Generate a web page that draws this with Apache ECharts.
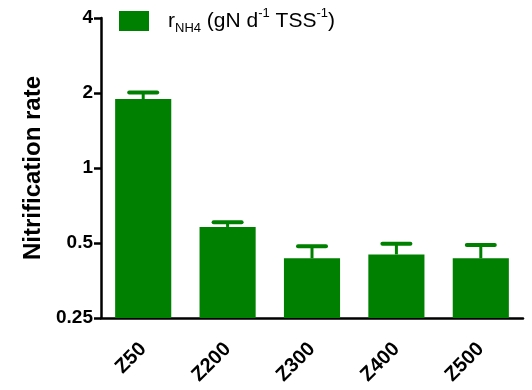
<!DOCTYPE html>
<html>
<head>
<meta charset="utf-8">
<script src="https://cdn.jsdelivr.net/npm/echarts@6/dist/echarts.min.js"></script>
<style>html,body{margin:0;padding:0;background:#fff}#c{width:532px;height:390px}</style>
</head>
<body>
<div id="c"></div>
<script>
var categories = ['Z50', 'Z200', 'Z300', 'Z400', 'Z500'];
var meanValues = [1.89, 0.58, 0.434, 0.45, 0.434];
var upperValues = [2.01, 0.605, 0.485, 0.497, 0.491];
var yTicks = [0.25, 0.5, 1, 2, 4];
var seriesName = 'rNH4';

var GREEN = '#008000';
var FONT = 'Liberation Sans, Arial, sans-serif';
var Y_MIN = yTicks[0];
var Y_MAX = yTicks[yTicks.length - 1];

var chart = echarts.init(document.getElementById('c'));
var barData = categories.map(function (c, i) { return [i, meanValues[i], upperValues[i]]; });

chart.setOption({
  animation: false,
  backgroundColor: '#fff',
  grid: { left: 101, right: 9, top: 18, bottom: 72, containLabel: false },
  legend: {
    show: true,
    data: [{ name: seriesName, icon: 'rect', itemStyle: { color: GREEN } }],
    left: 119, top: 7, padding: 0,
    itemWidth: 30, itemHeight: 20,
    selectedMode: false,
    formatter: function () {
      return '{s|}{n|r}{sub|NH4}{n| (gN d}{sup|-1}{n| TSS}{sup|-1}{n|)}';
    },
    textStyle: {
      fontFamily: FONT, fontSize: 21, color: '#000',
      rich: {
        s: { width: 14 },
        n: { fontFamily: FONT, fontSize: 21, lineHeight: 28, color: '#000' },
        sub: { fontFamily: FONT, fontSize: 13, lineHeight: 15, verticalAlign: 'bottom', color: '#000' },
        sup: { fontFamily: FONT, fontSize: 13, lineHeight: 15, verticalAlign: 'top', color: '#000' }
      }
    }
  },
  xAxis: {
    type: 'category',
    data: categories,
    axisLine: { lineStyle: { color: '#000', width: 2.5 } },
    axisTick: { alignWithLabel: true, length: 10, lineStyle: { color: '#000', width: 2.5 } },
    axisLabel: { rotate: 45, margin: 28, fontFamily: FONT, fontSize: 20, fontWeight: 'bold', color: '#000' },
    splitLine: { show: false }
  },
  yAxis: {
    type: 'log',
    logBase: 2,
    min: Y_MIN,
    max: Y_MAX,
    interval: 1,
    name: 'Nitrification rate',
    nameLocation: 'middle',
    nameGap: 50,
    nameTextStyle: { fontFamily: FONT, fontSize: 24, fontWeight: 'bold', color: '#000' },
    axisLine: { show: true, lineStyle: { color: '#000', width: 2.5 } },
    axisTick: { show: true, length: 7, lineStyle: { color: '#000', width: 2.5 } },
    axisLabel: {
      margin: 8, fontFamily: FONT, fontSize: 19, fontWeight: 'bold', color: '#000',
      formatter: function (v) {
        var best = yTicks.reduce(function (a, b) { return Math.abs(b - v) < Math.abs(a - v) ? b : a; });
        return String(best);
      }
    },
    splitLine: { show: false }
  },
  series: [
    {
      name: seriesName,
      type: 'custom',
      data: barData,
      itemStyle: { color: GREEN },
      encode: { x: 0, y: [1, 2] },
      z: 2,
      renderItem: function (params, api) {
        var i = api.value(0);
        var pBase = api.coord([i, Y_MIN]);
        var p0 = api.coord([i, api.value(1)]);
        var p1 = api.coord([i, api.value(2)]);
        var bw = api.size([1, 0])[0] * 0.665;
        return {
          type: 'group',
          children: [
            { type: 'rect', shape: { x: p0[0] - bw / 2, y: p0[1], width: bw, height: pBase[1] - p0[1] }, style: { fill: GREEN } },
            { type: 'line', shape: { x1: p0[0], y1: p0[1], x2: p1[0], y2: p1[1] }, style: { stroke: GREEN, lineWidth: 3 } },
            { type: 'line', shape: { x1: p1[0] - 14, y1: p1[1], x2: p1[0] + 14, y2: p1[1] }, style: { stroke: GREEN, lineWidth: 4, lineCap: 'round' } }
          ]
        };
      }
    }
  ]
});
</script>
</body>
</html>
